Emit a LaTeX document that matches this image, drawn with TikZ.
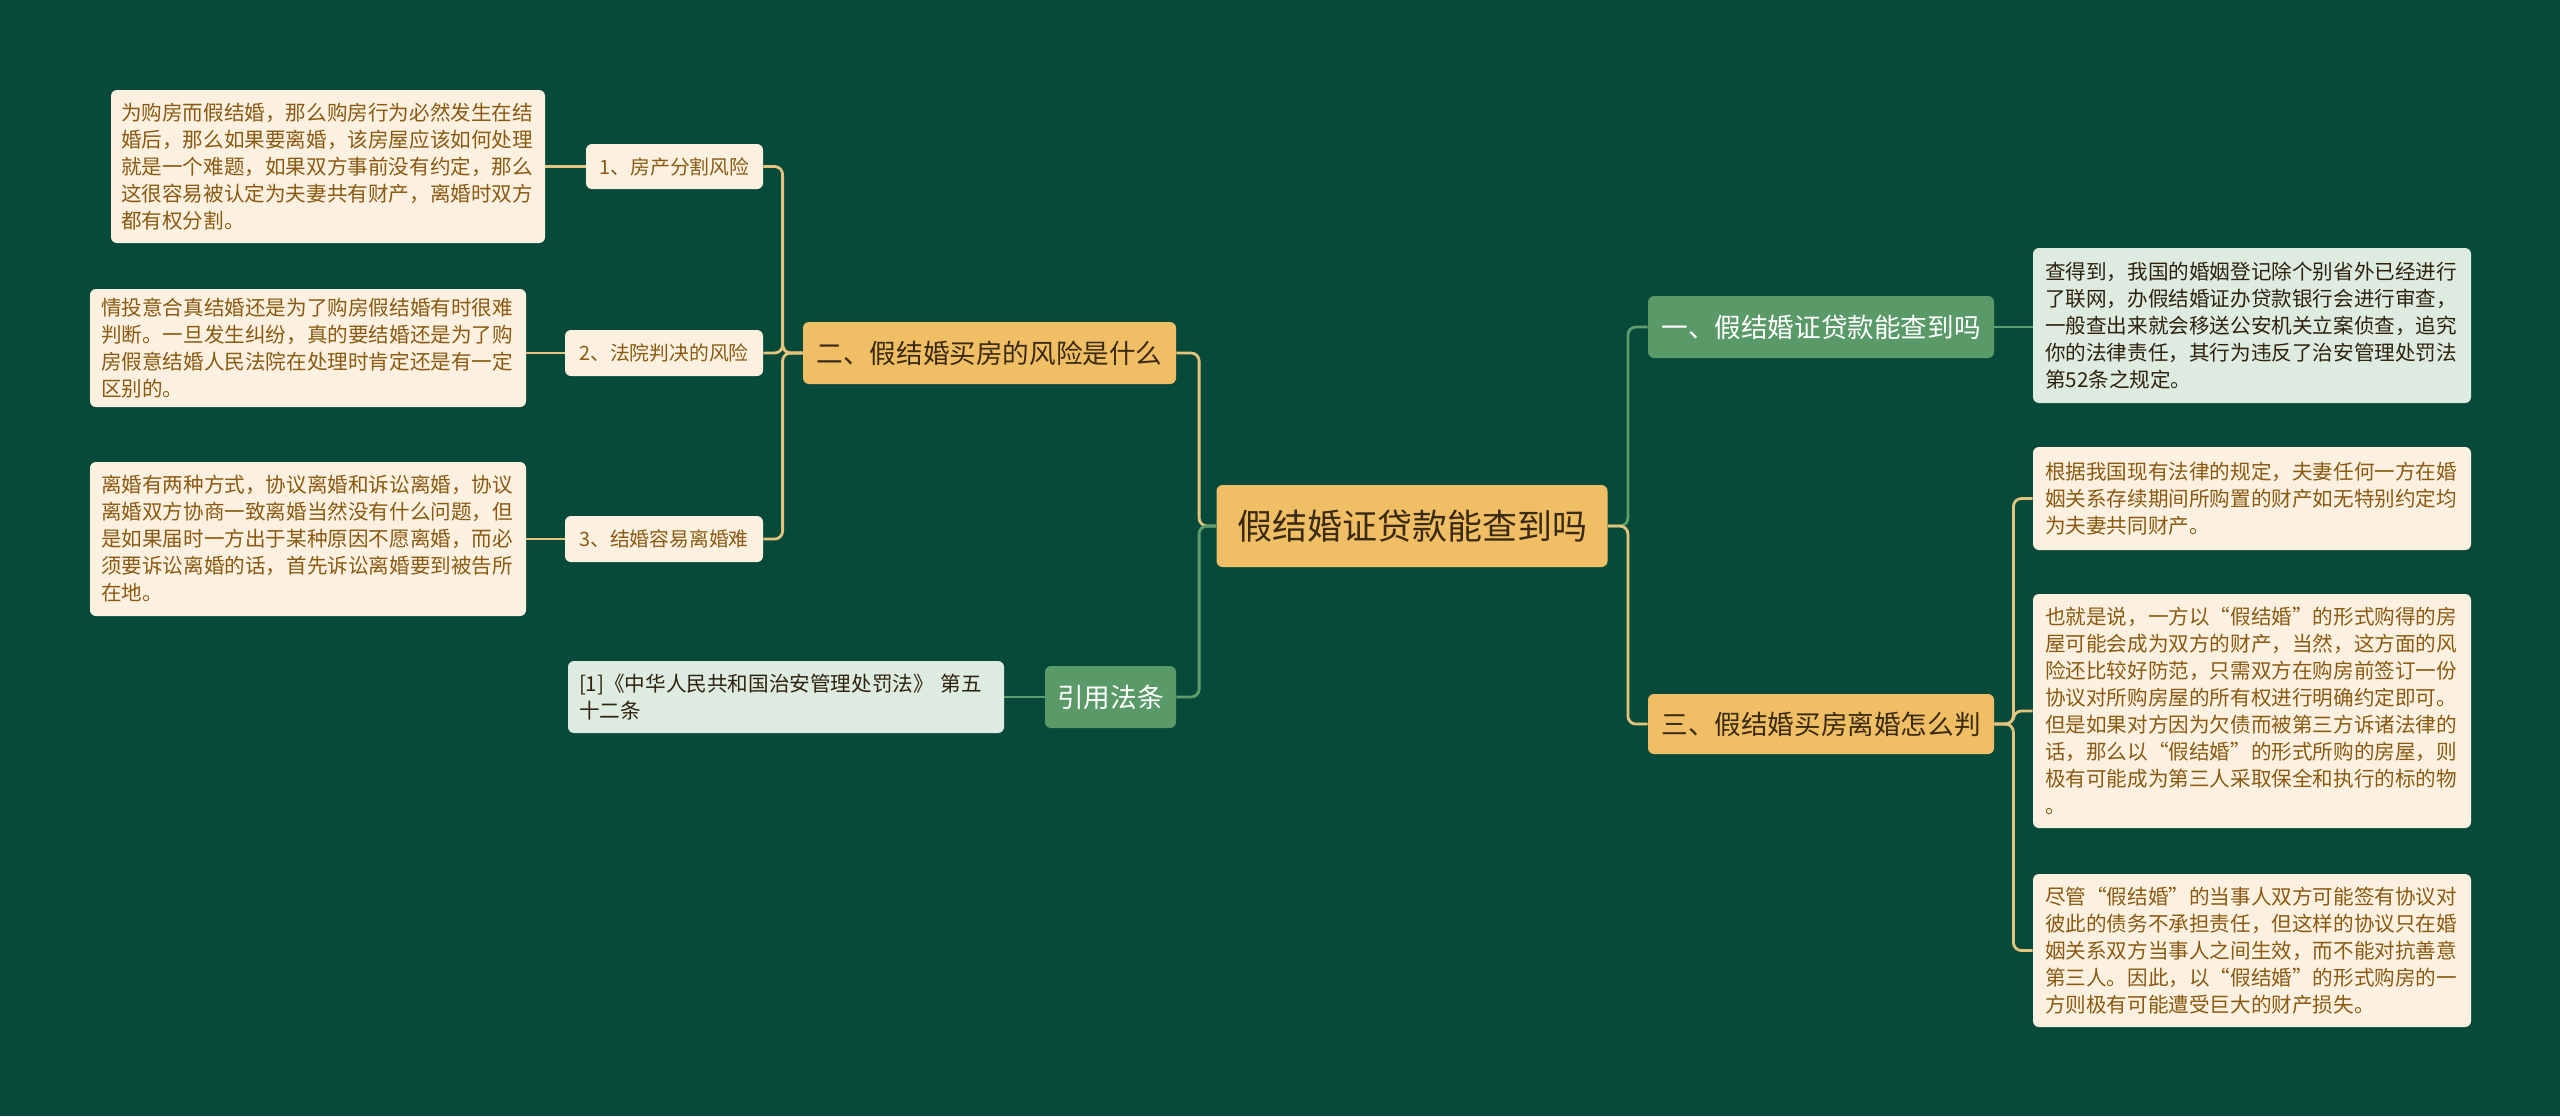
\documentclass[tikz,border=0pt]{standalone}
\usepackage{fontspec}
\setmainfont{Noto Sans CJK SC}
\definecolor{bg}{HTML}{084A3A}
\definecolor{orangefill}{HTML}{F0BE64}
\definecolor{creamfill}{HTML}{FCF1E1}
\definecolor{browntext}{HTML}{8A5A12}
\definecolor{darktext}{HTML}{3A2A10}
\definecolor{greenfill}{HTML}{5A9A68}
\definecolor{greenleaf}{HTML}{DDEBE1}
\definecolor{yline}{HTML}{E4C47C}
\definecolor{gline}{HTML}{5E9E6E}
\tikzset{
  box/.style={rounded corners=3pt, inner sep=0pt, align=left},
  rootbox/.style={box, fill=orangefill, text=darktext, font=\fontsize{17.5}{21}\selectfont},
  obranch/.style={box, fill=orangefill, text=darktext, font=\fontsize{13.3}{16}\selectfont},
  gbranch/.style={box, fill=greenfill, text=white, font=\fontsize{13.3}{16}\selectfont},
  subbox/.style={box, fill=creamfill, text=browntext, font=\fontsize{9.9}{12}\selectfont},
  leafbox/.style={box, fill=creamfill, text=browntext, text width=207pt, font=\fontsize{10.3}{13.5}\selectfont},
  gleafbox/.style={box, fill=greenleaf, text=darktext!80!black, text width=207pt, font=\fontsize{10.3}{13.5}\selectfont},
  yconn/.style={draw=yline, line width=1.4pt, rounded corners=4pt},
  gconn/.style={draw=gline, line width=1.4pt, rounded corners=4pt}
}
\begin{document}
\begin{tikzpicture}[x=0.5pt,y=-0.5pt]
\fill[bg] (0,0) rectangle (2560,1116);
\useasboundingbox (0,0) rectangle (2560,1116);

% nodes
\node[rootbox, minimum width=195.5pt, minimum height=41pt] (root) at (1412,526) {假结婚证贷款能查到吗};
\node[obranch, minimum width=186.5pt, minimum height=31pt] (b2) at (989.5,353) {二、假结婚买房的风险是什么};
\node[gbranch, minimum width=65.5pt, minimum height=31pt] (bc) at (1110.5,697) {引用法条};
\node[gbranch, minimum width=173pt, minimum height=31pt] (b1) at (1821,327) {一、假结婚证贷款能查到吗};
\node[obranch, minimum width=173pt, minimum height=30pt] (b3) at (1821,724) {三、假结婚买房离婚怎么判};

\node[subbox, minimum width=88.5pt, minimum height=22.5pt] (s1) at (674.5,166.5) {1、房产分割风险};
\node[subbox, minimum width=99pt, minimum height=23pt] (s2) at (664,353) {2、法院判决的风险};
\node[subbox, minimum width=99pt, minimum height=23pt] (s3) at (664,539) {3、结婚容易离婚难};

\node[leafbox, minimum width=217pt, minimum height=76.5pt] (l1) at (328,166.5) {为购房而假结婚，那么购房行为必然发生在结\\婚后，那么如果要离婚，该房屋应该如何处理\\就是一个难题，如果双方事前没有约定，那么\\这很容易被认定为夫妻共有财产，离婚时双方\\都有权分割。};
\node[leafbox, minimum width=218pt, minimum height=59pt] (l2) at (308,348) {情投意合真结婚还是为了购房假结婚有时很难\\判断。一旦发生纠纷，真的要结婚还是为了购\\房假意结婚人民法院在处理时肯定还是有一定\\区别的。};
\node[leafbox, minimum width=218pt, minimum height=77pt] (l3) at (308,539) {离婚有两种方式，协议离婚和诉讼离婚，协议\\离婚双方协商一致离婚当然没有什么问题，但\\是如果届时一方出于某种原因不愿离婚，而必\\须要诉讼离婚的话，首先诉讼离婚要到被告所\\在地。};
\node[gleafbox, minimum width=218pt, minimum height=36pt] (cite) at (786,697) {[1]《中华人民共和国治安管理处罚法》 第五\\十二条};

\node[gleafbox, minimum width=219pt, minimum height=77.5pt] (r1) at (2252,325.5) {查得到，我国的婚姻登记除个别省外已经进行\\了联网，办假结婚证办贷款银行会进行审查，\\一般查出来就会移送公安机关立案侦查，追究\\你的法律责任，其行为违反了治安管理处罚法\\第52条之规定。};
\node[leafbox, minimum width=219pt, minimum height=51.5pt] (r2) at (2252,498.5) {根据我国现有法律的规定，夫妻任何一方在婚\\姻关系存续期间所购置的财产如无特别约定均\\为夫妻共同财产。};
\node[leafbox, minimum width=219pt, minimum height=117pt] (r3) at (2252,711) {也就是说，一方以“假结婚”的形式购得的房\\屋可能会成为双方的财产，当然，这方面的风\\险还比较好防范，只需双方在购房前签订一份\\协议对所购房屋的所有权进行明确约定即可。\\但是如果对方因为欠债而被第三方诉诸法律的\\话，那么以“假结婚”的形式所购的房屋，则\\极有可能成为第三人采取保全和执行的标的物\\。};
\node[leafbox, minimum width=219pt, minimum height=76.5pt] (r4) at (2252,950.5) {尽管“假结婚”的当事人双方可能签有协议对\\彼此的债务不承担责任，但这样的协议只在婚\\姻关系双方当事人之间生效，而不能对抗善意\\第三人。因此，以“假结婚”的形式购房的一\\方则极有可能遭受巨大的财产损失。};

% connectors
\path[yconn] (root.west) -- ++(-17,0) |- (b2.east);
\path[gconn] (root.west) -- ++(-17,0) |- (bc.east);
\path[gconn] (root.east) -- ++(20,0) |- (b1.west);
\path[yconn] (root.east) -- ++(20,0) |- (b3.west);

\path[yconn] (b2.west) -- ++(-20,0) |- (s1.east);
\path[yconn] (b2.west) -- ++(-20,0) |- (s2.east);
\path[yconn] (b2.west) -- ++(-20,0) |- (s3.east);

\path[yconn] (s1.west) -- (l1.east |- s1.west);
\path[yconn] (s2.west) -- (l2.east |- s2.west);
\path[yconn] (s3.west) -- (l3.east |- s3.west);
\path[gconn] (bc.west) -- (cite.east |- bc.west);
\path[gconn] (b1.east) -- (r1.west |- b1.east);

\path[yconn] (b3.east) -- ++(19,0) |- (r2.west);
\path[yconn] (b3.east) -- ++(19,0) |- (r3.west);
\path[yconn] (b3.east) -- ++(19,0) |- (r4.west);
\end{tikzpicture}
\end{document}
